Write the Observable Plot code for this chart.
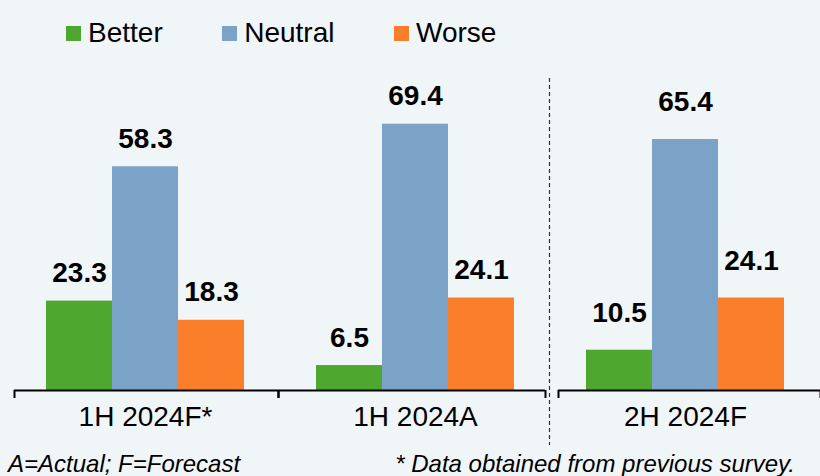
<!DOCTYPE html>
<html><head><meta charset="utf-8">
<script src="https://cdn.jsdelivr.net/npm/d3@7"></script>
<script src="https://cdn.jsdelivr.net/npm/@observablehq/plot@0.6"></script>
<style>
html,body{margin:0;padding:0;background:#f0f5f8;}
#wrap{position:relative;width:820px;height:476px;overflow:hidden;font-family:"Liberation Sans",Arial,sans-serif;color:#000;}
#legend{position:absolute;left:66px;top:17px;display:flex;align-items:center;font-size:28px;line-height:32px;}
.item{display:flex;align-items:center;margin-right:59.5px;}
.sw{width:15px;height:15px;margin-right:7px;}
.foot{position:absolute;top:450px;font-size:24px;font-style:italic;white-space:nowrap;}
#chart{position:absolute;left:0;top:0;}
</style></head><body><div id="wrap"><div id="chart"></div><div id="legend"></div></div>
<script>
// ---- data ----
const groups = ["1H 2024F*", "1H 2024A", "2H 2024F"];
const series = ["Better", "Neutral", "Worse"];
const better = [23.3, 6.5, 10.5];
const neutral = [58.3, 69.4, 65.4];
const worse = [18.3, 24.1, 24.1];
const colors = ["#4ea72e", "#7ba3c8", "#fb7e2b"];
const footLeft = "A=Actual; F=Forecast";
const footRight = "* Data obtained from previous survey.";

const valuesBySeries = {Better: better, Neutral: neutral, Worse: worse};
const rows = groups.flatMap((g, i) => series.map(s => ({group: g, series: s, value: valuesBySeries[s][i]})));
const groupRows = groups.map(g => ({group: g}));

// ---- layout (style only) ----
const bracketLeft = [4, -2, 8];   // inset of bracket start within each facet
const bracketRight = [2, 5, 0];   // inset of bracket end within each facet
const font = "Liberation Sans, Arial, sans-serif";

const marks = [
  Plot.barY(rows, {fx: "group", x: "series", y: "value", fill: "series"}),
  Plot.text(rows.filter(d => d.group !== groups[2]), {fx: "group", x: "series", y: "value",
    text: d => d.value.toFixed(1), dy: -28, fontSize: 28, fontWeight: "bold", fill: "#000"}),
  Plot.text(rows.filter(d => d.group === groups[2]), {fx: "group", x: "series", y: "value",
    text: d => d.value.toFixed(1), dy: -37, fontSize: 28, fontWeight: "bold", fill: "#000"}),
  Plot.text(groupRows, {fx: "group", text: "group", frameAnchor: "bottom", dy: 35, fontSize: 28, fill: "#000"}),
  Plot.ruleX([groupRows[2]], {fx: "group", x: () => "Better", dx: -70, insetTop: -5, insetBottom: -55,
    stroke: "#333", strokeWidth: 1.2, strokeDasharray: "4,3"})
];
groups.forEach((g, i) => {
  const d = [groupRows[i]];
  marks.push(Plot.ruleY(d, {fx: "group", y: () => 0, insetLeft: bracketLeft[i], insetRight: bracketRight[i], stroke: "#000", strokeWidth: 2}));
  marks.push(Plot.ruleX(d, {fx: "group", x: () => "Better", y1: () => 0, y2: () => 0, insetBottom: -8,
    dx: bracketLeft[i] - 69, stroke: "#000", strokeWidth: 2}));
  marks.push(Plot.ruleX(d, {fx: "group", x: () => "Worse", y1: () => 0, y2: () => 0, insetBottom: -8,
    dx: 69 - bracketRight[i], stroke: "#000", strokeWidth: 2}));
});

const chart = Plot.plot({
  width: 820, height: 476,
  marginTop: 83, marginBottom: 86, marginLeft: 10, marginRight: 0,
  style: {background: "transparent", fontFamily: font, color: "#000", overflow: "visible"},
  fx: {domain: groups, padding: 0, axis: null, label: null},
  x: {domain: series, paddingInner: 0, paddingOuter: 0.545, axis: null},
  y: {domain: [0, 80], axis: null},
  color: {domain: series, range: colors},
  marks
});
document.getElementById("chart").appendChild(chart);

const legend = document.getElementById("legend");
series.forEach((s, i) => {
  const it = document.createElement("div"); it.className = "item";
  const sw = document.createElement("div"); sw.className = "sw"; sw.style.background = colors[i];
  const tx = document.createElement("span"); tx.textContent = s;
  it.appendChild(sw); it.appendChild(tx); legend.appendChild(it);
});
const wrap = document.getElementById("wrap");
const fl = document.createElement("div"); fl.className = "foot"; fl.style.left = "8px"; fl.textContent = footLeft;
const fr = document.createElement("div"); fr.className = "foot"; fr.style.right = "25px"; fr.textContent = footRight;
wrap.appendChild(fl); wrap.appendChild(fr);
</script>
</body></html>
